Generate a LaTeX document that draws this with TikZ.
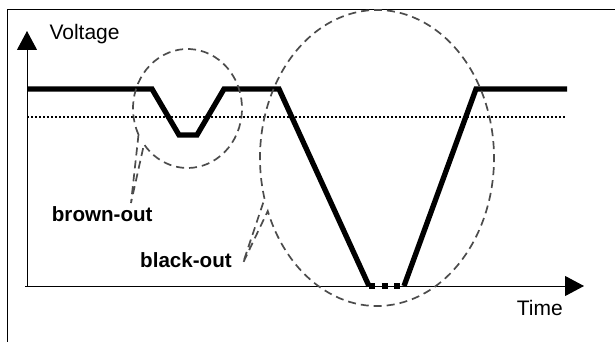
\documentclass[tikz,border=0pt]{standalone}
\usepackage{fontspec}
\setmainfont{Liberation Sans}
\usetikzlibrary{arrows.meta}
\begin{document}
\begin{tikzpicture}[x=1pt,y=-1pt,
  signal/.style={line width=5.3pt, line join=miter},
  outagedots/.style={line width=5.3pt, dash pattern=on 6pt off 6.6pt},
  threshold/.style={line width=1.8pt, dash pattern=on 1.8pt off 2.2pt},
  callout/.style={draw=black!70, line width=1.7pt, dash pattern=on 8pt off 5pt},
  axis/.style={line width=1pt, -{Triangle[length=19pt,width=20pt]}},
  lbl/.style={inner sep=0pt, anchor=base west, font=\fontsize{21}{25}\selectfont},
  blbl/.style={inner sep=0pt, anchor=base west, font=\fontsize{20.6}{25}\selectfont\bfseries}]
\useasboundingbox (0,0) rectangle (615,342);
\clip (0,0) rectangle (615,342);
% frame
\draw[line width=1pt] (7,10) rectangle (640,370);
% axes
\coordinate (origin) at (27,286);
\coordinate (xstart) at (25,286);
\coordinate (ytip) at (27,31);
\coordinate (xtip) at (584,286);
\draw[axis] (origin) -- (ytip);
\draw[axis] (xstart) -- (xtip);
% threshold
\draw[threshold] (27,117) -- (565,117);
% signal
\draw[signal] (27,89) -- (152,89) -- (179,135) -- (197,135) -- (224,89) -- (279,89) -- (369,286);
\draw[signal] (404,286) -- (476,89) -- (567,89);
\draw[outagedots] (369,286) -- (400,286);
% callouts
\coordinate (browntip) at (131,203);
\coordinate (blacktip) at (243,263);
\draw[callout] (187.5,108.5) ++(154:54.5 and 59.5)
  arc[start angle=154, end angle=503, x radius=54.5, y radius=59.5] -- (browntip) -- cycle;
\draw[callout] (377,158) ++(164:117 and 148)
  arc[start angle=164, end angle=519, x radius=117, y radius=148] -- (blacktip) -- cycle;
% labels
\node[lbl] (volt) at (49.3,39.3) {Voltage};
\node[lbl] (time) at (516.7,315.3) {Time};
\node[blbl] (brown) at (51.7,221.5) {brown-out};
\node[blbl] (black) at (140,267) {black-out};
\end{tikzpicture}
\end{document}
